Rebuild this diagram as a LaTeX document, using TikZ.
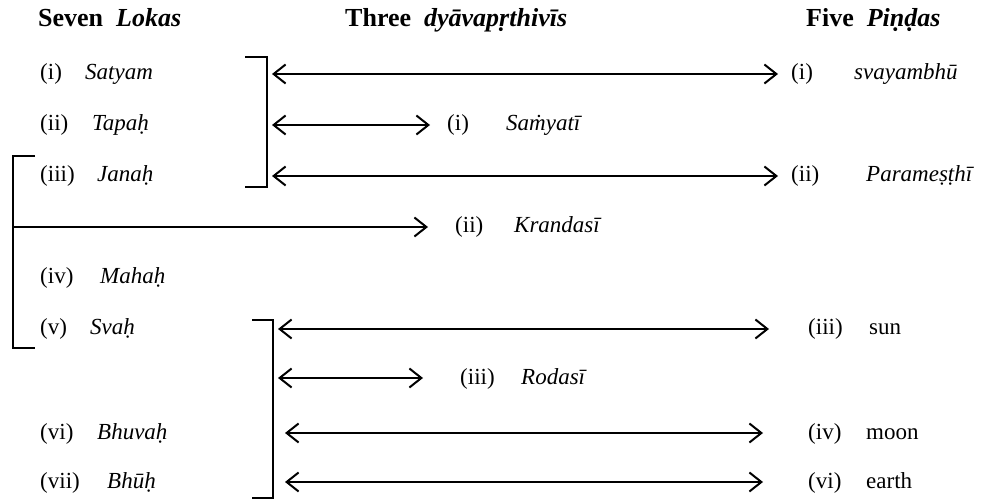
\documentclass[tikz,border=0pt]{standalone}
\usepackage{fontspec}
\setmainfont{Liberation Serif}
\usetikzlibrary{arrows.meta}
\begin{document}
\begin{tikzpicture}[x=1pt,y=-1pt,
  lbl/.style={anchor=base west,inner sep=0pt,font=\fontsize{23}{26}\selectfont},
  hdr/.style={anchor=base west,inner sep=0pt,font=\fontsize{26}{30}\selectfont\bfseries},
  brk/.style={line width=2.1pt,line cap=butt},
  conn/.style={line width=2.1pt,{Straight Barb[length=12pt,width=19pt,line width=2pt]}-{Straight Barb[length=12pt,width=19pt,line width=2pt]}},
  oneway/.style={line width=2.1pt,-{Straight Barb[length=12pt,width=19pt,line width=2pt]}}]
\useasboundingbox (0,0) rectangle (982,502);
% headers
\node[hdr] (h1) at (38,27) {Seven\ \ \textit{Lokas}};
\node[hdr] (h2) at (345,27) {Three\ \ \textit{dyāvapṛthivīs}};
\node[hdr] (h3) at (806,27) {Five\ \ \textit{Piṇḍas}};
% left column
\node[lbl] (l1) at (40,80) {\makebox[45pt][l]{(i)}\textit{Satyam}};
\node[lbl] (l2) at (40,131) {\makebox[52pt][l]{(ii)}\textit{Tapaḥ}};
\node[lbl] (l3) at (40,182) {\makebox[57pt][l]{(iii)}\textit{Janaḥ}};
\node[lbl] (l4) at (40,284) {\makebox[60pt][l]{(iv)}\textit{Mahaḥ}};
\node[lbl] (l5) at (40,335) {\makebox[50pt][l]{(v)}\textit{Svaḥ}};
\node[lbl] (l6) at (40,439) {\makebox[57pt][l]{(vi)}\textit{Bhuvaḥ}};
\node[lbl] (l7) at (40,488) {\makebox[67pt][l]{(vii)}\textit{Bhūḥ}};
% middle column
\node[lbl] (m1) at (447,131) {\makebox[59pt][l]{(i)}\textit{Saṁyatī}};
\node[lbl] (m2) at (455,233) {\makebox[59pt][l]{(ii)}\textit{Krandasī}};
\node[lbl] (m3) at (460,384) {\makebox[61pt][l]{(iii)}\textit{Rodasī}};
% right column
\node[lbl] (r1) at (791,80) {\makebox[63pt][l]{(i)}\textit{svayambhū}};
\node[lbl] (r2) at (791,182) {\makebox[75pt][l]{(ii)}\textit{Parameṣṭhī}};
\node[lbl] (r3) at (808,335) {\makebox[61pt][l]{(iii)}sun};
\node[lbl] (r4) at (808,439) {\makebox[58pt][l]{(iv)}moon};
\node[lbl] (r5) at (808,488) {\makebox[58pt][l]{(vi)}earth};
% brackets
\coordinate (b1a) at (245,57); \coordinate (b1b) at (267,57);
\coordinate (b1c) at (267,187); \coordinate (b1d) at (245,187);
\draw[brk] (b1a) -- (b1b) -- (b1c) -- (b1d);
\coordinate (b2a) at (35,156); \coordinate (b2b) at (13,156);
\coordinate (b2c) at (13,348); \coordinate (b2d) at (35,348);
\draw[brk] (b2a) -- (b2b) -- (b2c) -- (b2d);
\coordinate (b3a) at (252,320); \coordinate (b3b) at (273,320);
\coordinate (b3c) at (273,498); \coordinate (b3d) at (252,498);
\draw[brk] (b3a) -- (b3b) -- (b3c) -- (b3d);
% arrow endpoints
\coordinate (s1) at (272,74);  \coordinate (e1) at (778,74);
\coordinate (s2) at (272,125); \coordinate (e2) at (430,125);
\coordinate (s3) at (272,176); \coordinate (e3) at (778,176);
\coordinate (s4) at (13,227);  \coordinate (e4) at (428,227);
\coordinate (s5) at (278,329); \coordinate (e5) at (769,329);
\coordinate (s6) at (278,378); \coordinate (e6) at (423,378);
\coordinate (s7) at (285,433); \coordinate (e7) at (763,433);
\coordinate (s8) at (285,482); \coordinate (e8) at (763,482);
\draw[conn] (s1) -- (e1);
\draw[conn] (s2) -- (e2);
\draw[conn] (s3) -- (e3);
\draw[oneway] (s4) -- (e4);
\draw[conn] (s5) -- (e5);
\draw[conn] (s6) -- (e6);
\draw[conn] (s7) -- (e7);
\draw[conn] (s8) -- (e8);
\end{tikzpicture}
\end{document}
